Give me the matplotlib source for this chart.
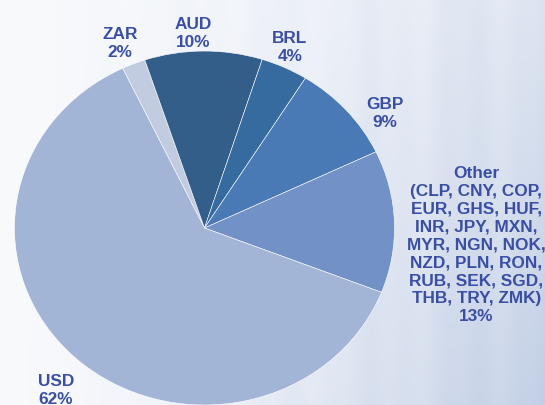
import numpy as np
import matplotlib.pyplot as plt

# currency share data
currencies = ['ZAR', 'AUD', 'BRL', 'GBP', 'Other', 'USD']
shares = [2, 10, 4, 9, 13, 62]
other_list = ('(CLP, CNY, COP,\nEUR, GHS, HUF,\nINR, JPY, MXN,\nMYR, NGN, NOK,\n'
              'NZD, PLN, RON,\nRUB, SEK, SGD,\nTHB, TRY, ZMK)')

colors = ['#C1CCE1', '#345E8A', '#366BA0', '#4A7AB5', '#7191C7', '#A3B5D7']
label_pos = {
    'ZAR': (-0.445, 1.05),
    'AUD': (-0.061, 1.107),
    'BRL': (0.45, 1.028),
    'GBP': (0.95, 0.655),
    'Other': (1.43, -0.09),
    'USD': (-0.782, -0.91),
}
text_color = '#3A4FA4'

plt.rcParams['font.family'] = ['Liberation Sans', 'DejaVu Sans']

fig = plt.figure(figsize=(5.45, 4.06), dpi=100)
ax = fig.add_axes([0, 0, 1, 1])

xlim = (-1.076, 1.792)
ylim = (-1.0, 1.294)

# background gradient: white on the left, light blue toward the right
nx, ny = 300, 200
t = np.linspace(0, 1, nx)[None, :]
s = np.linspace(0, 1, ny)[:, None]
streaks = 0.06 * (np.cos(t * 37.0) + 0.6 * np.cos(t * 91.0 + 1.3))
w = np.clip(t ** 1.6 * (0.5 + 0.5 * (1 - s)) + streaks * t, 0, 1)
white = np.array([0.972, 0.978, 0.988])
blue = np.array([0.76, 0.81, 0.90])
bg = white[None, None, :] * (1 - w[..., None]) + blue[None, None, :] * w[..., None]
ax.imshow(bg, extent=(*xlim, *ylim), origin='lower', aspect='auto', zorder=0)

wedges, _ = ax.pie(shares, colors=colors, startangle=115.5, counterclock=False,
                   wedgeprops=dict(edgecolor='white', linewidth=0.4),
                   frame=True)
for wdg in wedges:
    wdg.set_zorder(2)

for name, val in zip(currencies, shares):
    if name == 'Other':
        txt = f'Other\n{other_list}\n{val}%'
    else:
        txt = f'{name}\n{val}%'
    x, y = label_pos[name]
    ax.text(x, y, txt, ha='center', va='center', fontsize=12.4,
            fontweight='bold', color=text_color, linespacing=1.24, zorder=3)

ax.set_aspect('auto')
ax.set_xlim(*xlim)
ax.set_ylim(*ylim)
ax.axis('off')

fig.savefig('out.png', dpi=100)
